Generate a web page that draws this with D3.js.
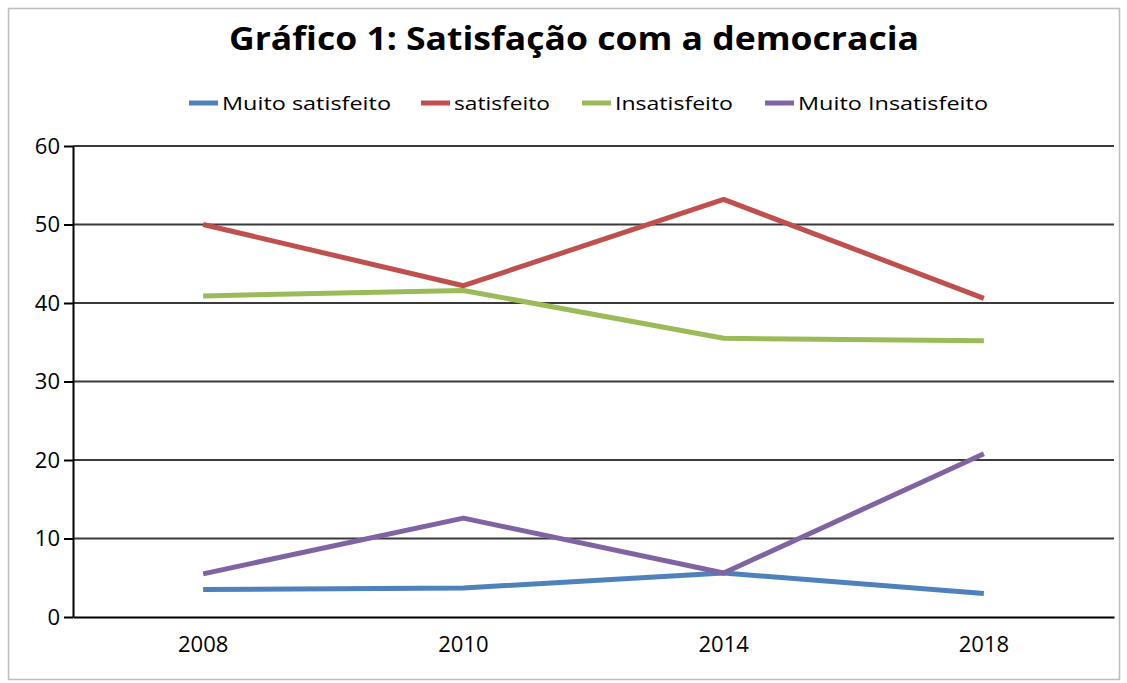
<!DOCTYPE html>
<html>
<head>
<meta charset="utf-8">
<script src="https://cdn.jsdelivr.net/npm/d3@7"></script>
<style>
  body { margin: 0; background: #fff; }
  text { font-family: "Open Sans", "Noto Sans", sans-serif; fill: #000; }
</style>
</head>
<body>
<div id="chart"></div>
<script>
const years = ["2008", "2010", "2014", "2018"];
const seriesNames = ["Muito satisfeito", "satisfeito", "Insatisfeito", "Muito Insatisfeito"];
const muitoSatisfeito = [3.5, 3.7, 5.6, 3.0];
const satisfeito = [50.0, 42.2, 53.2, 40.6];
const insatisfeito = [40.9, 41.6, 35.5, 35.2];
const muitoInsatisfeito = [5.5, 12.6, 5.6, 20.8];
const yTicks = [0, 10, 20, 30, 40, 50, 60];
const colors = ["#4F81BD", "#C0504D", "#9BBB59", "#8064A2"];

const series = [muitoSatisfeito, satisfeito, insatisfeito, muitoInsatisfeito];

const width = 1127, height = 683;
const margin = { top: 146, right: 13, bottom: 66, left: 73 }; // plot area box

const svg = d3.select("#chart").append("svg")
  .attr("width", width)
  .attr("height", height);

// chart frame
svg.append("rect")
  .attr("x", 8.5).attr("y", 8.5)
  .attr("width", 1111).attr("height", 671)
  .attr("fill", "none")
  .attr("stroke", "#bdbdbd")
  .attr("stroke-width", 1.5);

const x = d3.scaleBand()
  .domain(years)
  .range([margin.left, width - margin.right]);

const y = d3.scaleLinear()
  .domain([0, 60])
  .range([height - margin.bottom, margin.top]);

// gridlines
svg.append("g")
  .selectAll("line")
  .data(yTicks.filter(d => d > 0))
  .enter()
  .append("line")
  .attr("x1", margin.left)
  .attr("x2", width - margin.right)
  .attr("y1", d => y(d))
  .attr("y2", d => y(d))
  .attr("stroke", "#3a3a3a")
  .attr("stroke-width", 2);

// y axis
const yAxis = svg.append("g")
  .attr("transform", `translate(${margin.left},0)`)
  .call(d3.axisLeft(y).tickValues(yTicks).tickSize(9).tickPadding(4).tickSizeOuter(0));
yAxis.select(".domain").attr("stroke", "#000").attr("stroke-width", 2);
yAxis.selectAll(".tick line").attr("stroke", "#000").attr("stroke-width", 2);
yAxis.selectAll(".tick text")
  .style("font-size", "22px")
  .style("font-family", "'Open Sans', sans-serif")
  .attr("fill", "#222");

// x axis
const xAxis = svg.append("g")
  .attr("transform", `translate(0,${height - margin.bottom})`)
  .call(d3.axisBottom(x).tickSize(0).tickPadding(19).tickSizeOuter(0));
xAxis.select(".domain").attr("stroke", "#000").attr("stroke-width", 2);
xAxis.selectAll(".tick text")
  .style("font-size", "22px")
  .style("font-family", "'Open Sans', sans-serif")
  .attr("fill", "#222");

// lines
const line = d3.line()
  .x((d, i) => x(years[i]) + x.bandwidth() / 2)
  .y(d => y(d));

svg.append("g")
  .selectAll("path")
  .data(series)
  .enter()
  .append("path")
  .attr("d", line)
  .attr("fill", "none")
  .attr("stroke", (d, i) => colors[i])
  .attr("stroke-width", 5)
  .attr("stroke-linejoin", "round");

// title
svg.append("text")
  .attr("x", 574)
  .attr("y", 50)
  .attr("text-anchor", "middle")
  .style("font-size", "33px")
  .style("font-weight", "bold")
  .style("font-family", "'Open Sans', sans-serif")
  .attr("textLength", 690)
  .attr("lengthAdjust", "spacingAndGlyphs")
  .text("Gráfico 1: Satisfação com a democracia");

// legend
const legendX = [189, 421, 582, 765];
const legendW = [169, 96, 118, 190];
const legend = svg.append("g")
  .selectAll("g")
  .data(seriesNames)
  .enter()
  .append("g")
  .attr("transform", (d, i) => `translate(${legendX[i]},103)`);
legend.append("line")
  .attr("x1", 0).attr("x2", 29)
  .attr("y1", 0).attr("y2", 0)
  .attr("stroke", (d, i) => colors[i])
  .attr("stroke-width", 5);
legend.append("text")
  .attr("x", 33)
  .attr("y", 7)
  .style("font-size", "19px")
  .attr("textLength", (d, i) => legendW[i])
  .attr("lengthAdjust", "spacingAndGlyphs")
  .attr("fill", "#222")
  .text(d => d);
</script>
</body>
</html>
